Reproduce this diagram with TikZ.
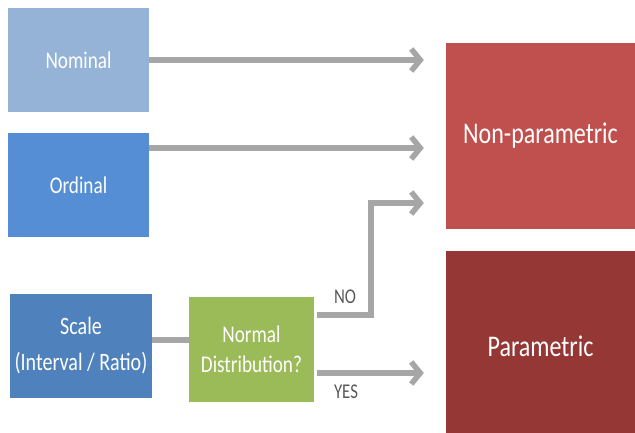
\documentclass[tikz,border=0pt]{standalone}
\usepackage{fontspec}
\setmainfont{Carlito}[FakeStretch=0.8]
\usetikzlibrary{arrows.meta}
\definecolor{nomblue}{HTML}{95B3D7}
\definecolor{ordblue}{HTML}{558ED5}
\definecolor{scaleblue}{HTML}{4F81BD}
\definecolor{normgreen}{HTML}{9BBB59}
\definecolor{npred}{HTML}{C0504D}
\definecolor{pred}{HTML}{953735}
\definecolor{conngray}{HTML}{A6A6A6}
\definecolor{lblgray}{HTML}{595959}
\begin{document}
\begin{tikzpicture}[x=1pt,y=-1pt,
  box/.style={draw=none, fill=#1, text=white, inner sep=0pt, align=center},
  conn/.style={draw=conngray, line width=5.5pt},
  arr/.style={conn, -{Straight Barb[length=9pt,width=22pt]}},
  lbl/.style={text=lblgray, font=\fontsize{21}{24}\selectfont, inner sep=0pt}]
\useasboundingbox (0,0) rectangle (635,432);
% left column
\node[box=nomblue, minimum width=141pt, minimum height=104pt, font=\fontsize{24}{28}\selectfont]
  (nom) at (78.5,60) {Nominal};
\node[box=ordblue, minimum width=141pt, minimum height=104pt, font=\fontsize{24}{28}\selectfont]
  (ord) at (78.5,185) {Ordinal};
\node[box=scaleblue, minimum width=142pt, minimum height=104pt, font=\fontsize{25}{36}\selectfont]
  (sca) at (81,346) {Scale\\(Interval / Ratio)};
\node[box=normgreen, minimum width=125pt, minimum height=105pt, font=\fontsize{24}{30}\selectfont]
  (nrm) at (251.5,349.5) {Normal\\Distribution?};
% outcomes
\node[box=npred, minimum width=189pt, minimum height=186pt, font=\fontsize{30}{36}\selectfont]
  (np) at (540.5,136) {Non-parametric};
\node[box=pred, minimum width=189pt, minimum height=190pt, font=\fontsize{30}{36}\selectfont]
  (par) at (540.5,346) {Parametric};
% connectors
\coordinate (bend) at (371,315);
\draw[arr] (nom.east |- 0,60) -- ([xshift=-22pt]np.west |- 0,60);
\draw[arr] (ord.east |- 0,148) -- ([xshift=-22pt]np.west |- 0,148);
\draw[conn] (sca.east |- 0,340) -- (nrm.west |- 0,340);
\draw[arr, line join=miter] ([xshift=3pt]nrm.east |- bend) -- (bend) -- (bend |- 0,203) -- ([xshift=-22pt]np.west |- 0,203);
\draw[arr] ([xshift=3pt]nrm.east |- 0,373) -- ([xshift=-22pt]par.west |- 0,373);
\node[lbl] (no) at (345,297) {NO};
\node[lbl] (yes) at (346,392) {YES};
\end{tikzpicture}
\end{document}
